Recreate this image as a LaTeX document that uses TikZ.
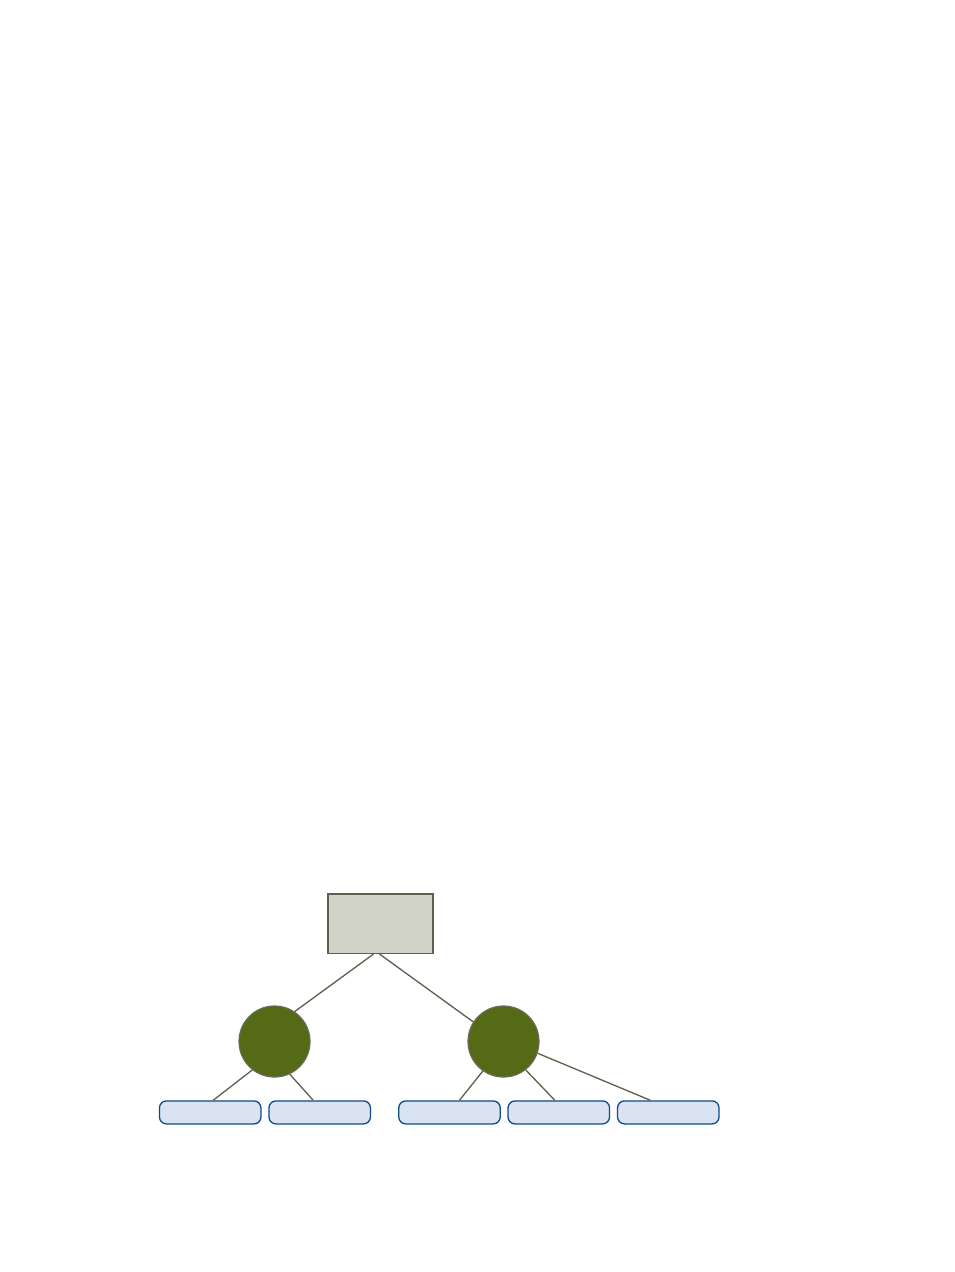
\documentclass[tikz,border=0pt]{standalone}
\usetikzlibrary{calc}
\definecolor{rootfill}{HTML}{D1D2C8}
\definecolor{rootdraw}{HTML}{5E5E4C}
\definecolor{circfill}{HTML}{556A14}
\definecolor{circdraw}{HTML}{6A6A5A}
\definecolor{leaffill}{HTML}{DAE3F1}
\definecolor{leafdraw}{HTML}{0E4A8A}
\definecolor{linkcol}{HTML}{5E5E4A}
\tikzset{
  rootbox/.style={draw=rootdraw, fill=rootfill, line width=1.2pt, minimum width=105pt, minimum height=59.5pt, inner sep=0pt},
  midnode/.style={circle, draw=circdraw, fill=circfill, line width=1.2pt, minimum size=71pt, inner sep=0pt},
  leafbox/.style={draw=leafdraw, fill=leaffill, line width=1.3pt, rounded corners=7pt, minimum width=101.5pt, minimum height=23pt, inner sep=0pt},
  link/.style={draw=linkcol, line width=1.3pt}
}
\begin{document}
\begin{tikzpicture}[x=1pt,y=-1pt]
\useasboundingbox[fill=white] (0,0) rectangle (954,1272);
\node[rootbox] (root) at (380.5,923.7) {};
\node[midnode] (m1) at (274.5,1041.5) {};
\node[midnode] (m2) at (503.5,1041.5) {};
\node[leafbox] (l1) at (210.2,1112.4) {};
\node[leafbox] (l2) at (319.7,1112.4) {};
\node[leafbox] (l3) at (449.5,1112.4) {};
\node[leafbox] (l4) at (558.8,1112.4) {};
\node[leafbox] (l5) at (668.3,1112.4) {};
\draw[link] ($(root.south)+(-7,0)$) -- (m1.56);
\draw[link] ($(root.south)+(-1,0)$) -- (m2.147);
\draw[link] (m1.232.6) -- ($(l1.north)+(3,0)$);
\draw[link] (m1.295.5) -- ($(l2.north)+(-6.5,0)$);
\draw[link] (m2.235.6) -- ($(l3.north)+(10,0)$);
\draw[link] (m2.308.3) -- ($(l4.north)+(-4,0)$);
\draw[link] (m2.341) -- ($(l5.north)+(-18,0)$);
\end{tikzpicture}
\end{document}
